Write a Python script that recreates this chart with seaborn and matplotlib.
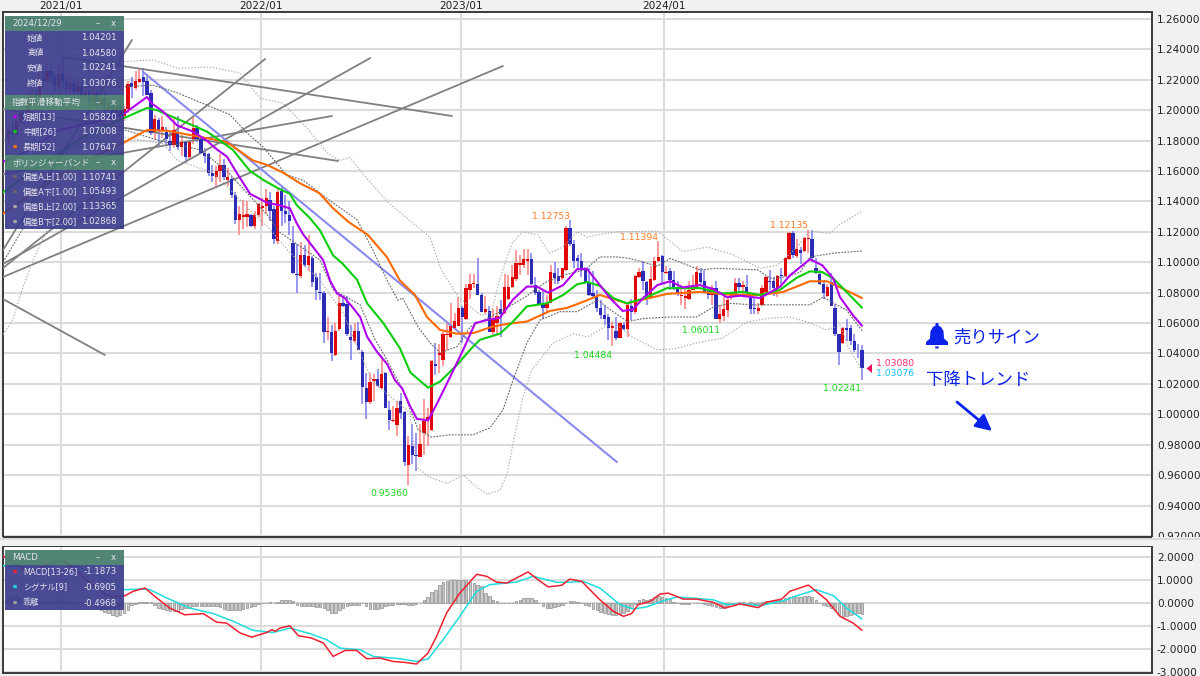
import numpy as np
import matplotlib
matplotlib.use("Agg")
import matplotlib.pyplot as plt
from matplotlib.patches import Rectangle, Polygon, FancyArrowPatch
import seaborn as sns

sns.set_theme(style="white")
FONT = ['DejaVu Sans', 'Noto Sans CJK JP']
plt.rcParams['font.family'] = FONT

# ---------------- weekly candles (oldest first) ----------------
opens = [1.182,1.187,1.184,1.193,1.198,1.194,1.206,1.210,1.207,1.221,1.219,1.226,1.222,1.216,1.224,1.219,1.214,1.218,1.212,1.216,1.209,1.212,1.206,1.211,1.203,1.208,1.200,1.205,1.198,1.203,1.196,
 1.201,1.218,1.2145,1.2185,1.222,1.219,1.2115,1.186,1.1935,1.187,1.186,1.18,1.177,1.186,1.176,1.179,1.169,1.181,1.188,1.181,
 1.172,1.171,1.159,1.156,1.16,1.164,1.154,1.155,1.144,1.128,1.13,1.13,1.131,1.124,1.131,1.136,1.137,1.141,1.135,1.114,
 1.147,1.134,1.131,1.1125,1.092,1.091,1.105,1.098,1.103,1.09,1.0805,1.08,1.054,1.054,1.039,1.056,1.0735,1.0725,1.051,1.048,
 1.055,1.041,1.017,1.008,1.022,1.023,1.0175,1.027,1.003,.9955,.993,1.009,1.0015,.9665,.979,.9735,.972,.988,.9955,.99,
 1.033,1.039,1.036,1.052,1.051,1.0565,1.058,1.07,1.063,1.082,1.0855,1.0855,1.0785,1.0675,1.068,1.054,1.06,1.069,1.0665,1.076,
 1.0835,1.089,1.098,1.0985,1.101,1.102,1.085,1.0805,1.0725,1.07,1.0735,1.093,1.091,1.0895,1.095,1.1225,1.112,1.103,1.101,1.095,
 1.087,1.0795,1.077,1.07,1.065,1.064,1.0565,1.055,1.0505,1.059,1.056,1.0715,1.0675,1.09,1.094,1.087,1.077,1.0885,1.101,1.104,
 1.093,1.094,1.0885,1.084,1.078,1.0765,1.076,1.082,1.083,1.093,1.088,1.081,1.0785,1.083,1.063,1.0645,1.0685,1.0775,1.079,1.0865,
 1.084,1.084,1.0765,1.07,1.068,1.072,1.0805,1.088,1.088,1.083,1.0915,1.091,1.102,1.1195,1.104,1.108,1.1075,1.1155,1.1155,1.0965,
 1.0925,1.086,1.078,1.087,1.07,1.0525,1.047,1.057,1.0565,1.048,1.0425,1.04201]
highs = [1.191,1.192,1.198,1.203,1.203,1.211,1.215,1.214,1.226,1.228,1.232,1.231,1.224,1.229,1.2349,1.221,1.223,1.221,1.220,1.220,1.216,1.216,1.215,1.214,1.212,1.212,1.209,1.209,1.207,1.207,1.203,
 1.219,1.222,1.2255,1.227,1.2275,1.224,1.2135,1.197,1.195,1.196,1.189,1.186,1.195,1.196,1.184,1.18,1.18,1.196,1.19,1.182,
 1.175,1.172,1.164,1.163,1.171,1.168,1.162,1.156,1.146,1.137,1.141,1.14,1.132,1.134,1.139,1.142,1.148,1.146,1.137,1.148,
 1.15,1.144,1.14,1.124,1.112,1.1135,1.1115,1.118,1.104,1.093,1.093,1.081,1.064,1.059,1.06,1.078,1.078,1.078,1.059,1.06,
 1.061,1.042,1.027,1.027,1.0265,1.03,1.0365,1.0275,1.009,1.0055,1.009,1.014,1.002,.986,.9935,.988,.9935,1.01,1.004,1.036,
 1.047,1.046,1.054,1.06,1.073,1.0665,1.077,1.071,1.086,1.0925,1.0925,1.103,1.0795,1.078,1.071,1.069,1.071,1.075,1.0925,1.0915,
 1.098,1.108,1.1045,1.109,1.109,1.106,1.0905,1.082,1.082,1.0785,1.098,1.1,1.096,1.0965,1.1236,1.12753,1.1145,1.105,1.106,1.097,
 1.0965,1.094,1.082,1.075,1.072,1.066,1.061,1.064,1.061,1.061,1.0735,1.076,1.0915,1.096,1.101,1.0875,1.0975,1.1035,1.11394,1.1045,
 1.0975,1.0965,1.094,1.088,1.084,1.084,1.088,1.0915,1.0975,1.0965,1.095,1.084,1.085,1.088,1.072,1.0795,1.077,1.0795,1.0895,1.0895,
 1.088,1.0915,1.077,1.077,1.073,1.085,1.091,1.095,1.09,1.0915,1.0965,1.103,1.12,1.1205,1.1155,1.11,1.1165,1.12135,1.12135,1.1025,
 1.095,1.0885,1.086,1.093,1.0725,1.053,1.0575,1.063,1.059,1.053,1.0465,1.0458]
lows = [1.178,1.181,1.180,1.189,1.190,1.191,1.202,1.204,1.204,1.215,1.216,1.218,1.213,1.213,1.215,1.211,1.211,1.209,1.209,1.206,1.206,1.203,1.203,1.200,1.200,1.197,1.197,1.195,1.195,1.192,1.193,
 1.198,1.208,1.2135,1.2178,1.2095,1.21,1.184,1.181,1.176,1.182,1.177,1.173,1.175,1.174,1.17,1.165,1.167,1.178,1.179,1.171,
 1.165,1.157,1.153,1.149,1.153,1.154,1.15,1.142,1.125,1.118,1.122,1.123,1.123,1.122,1.13,1.124,1.132,1.127,1.112,1.112,
 1.124,1.126,1.118,1.0925,1.08,1.0895,1.097,1.094,1.084,1.075,1.075,1.047,1.049,1.035,1.0385,1.055,1.0705,1.0515,1.036,1.047,
 1.042,1.007,.997,1.007,1.009,1.018,1.0168,1.004,.99,.995,.986,.997,.966,.9536,.967,.963,.972,.973,.979,.989,
 1.026,1.027,1.0315,1.042,1.05,1.0555,1.058,1.047,1.062,1.076,1.083,1.0785,1.067,1.066,1.054,1.052,1.053,1.051,1.066,1.0755,
 1.083,1.088,1.0915,1.0965,1.0915,1.085,1.0785,1.072,1.063,1.0665,1.073,1.086,1.086,1.0885,1.0945,1.111,1.096,1.096,1.09,1.086,
 1.0775,1.0765,1.0675,1.0625,1.059,1.049,1.04484,1.049,1.05,1.0555,1.051,1.062,1.066,1.0895,1.082,1.072,1.0765,1.088,1.1005,1.0865,
 1.092,1.082,1.0815,1.078,1.072,1.069,1.0755,1.0815,1.0825,1.086,1.0795,1.076,1.072,1.0625,1.06011,1.0615,1.064,1.075,1.0775,1.0795,
 1.0775,1.0785,1.066,1.066,1.066,1.071,1.08,1.082,1.0775,1.077,1.0855,1.0905,1.1015,1.1025,1.103,1.099,1.107,1.106,1.1005,1.0925,
 1.085,1.076,1.077,1.071,1.0515,1.0325,1.046,1.0485,1.0455,1.041,1.037,1.02241]
closes = [1.187,1.184,1.193,1.198,1.194,1.206,1.210,1.207,1.221,1.219,1.226,1.222,1.216,1.224,1.219,1.214,1.218,1.212,1.216,1.209,1.212,1.206,1.211,1.203,1.208,1.200,1.205,1.198,1.203,1.196,1.201,
 1.217,1.2155,1.2195,1.2205,1.2185,1.21,1.185,1.194,1.187,1.189,1.181,1.177,1.187,1.176,1.179,1.169,1.179,1.188,1.181,1.172,
 1.17,1.159,1.157,1.16,1.164,1.156,1.156,1.144,1.128,1.132,1.131,1.132,1.124,1.131,1.138,1.137,1.142,1.134,1.115,1.146,
 1.134,1.132,1.127,1.093,1.0915,1.105,1.098,1.104,1.087,1.0815,1.08,1.054,1.0545,1.04,1.055,1.0735,1.0715,1.0525,1.049,1.055,
 1.0425,1.018,1.008,1.021,1.0235,1.0185,1.0265,1.004,.9965,.996,1.004,1.001,.9685,.98,.9735,.9725,.9805,.9955,.998,1.035,
 1.0315,1.04,1.053,1.053,1.058,1.0615,1.07,1.064,1.083,1.0855,1.0856,1.0785,1.0675,1.0695,1.054,1.063,1.0645,1.066,1.0835,1.084,
 1.09,1.0995,1.0995,1.102,1.102,1.0855,1.0795,1.0725,1.07,1.073,1.0935,1.0895,1.088,1.0965,1.1225,1.112,1.101,1.101,1.095,1.087,
 1.0785,1.0775,1.07,1.065,1.063,1.0565,1.058,1.05,1.06,1.056,1.072,1.0675,1.091,1.0935,1.088,1.077,1.089,1.101,1.1035,1.0935,
 1.0935,1.0885,1.084,1.0795,1.0785,1.0775,1.082,1.0835,1.0935,1.087,1.0805,1.0785,1.083,1.063,1.066,1.069,1.075,1.0795,1.0865,1.084,
 1.085,1.08,1.0695,1.069,1.07,1.083,1.09,1.087,1.083,1.091,1.091,1.1025,1.119,1.1045,1.1085,1.106,1.116,1.116,1.1025,1.093,
 1.0855,1.0795,1.0835,1.0715,1.053,1.041,1.057,1.0555,1.048,1.042,1.042,1.03076]

# ---------------- moving averages (week, price) ----------------
ema13_w = [-.5,6.5,14,24.6,31,36.8,38,41,44.6,48.7,52.3,55,57.5,60,63.5,68,70.7,73.8,75.6,77.2,79.8,82.4,84.2,86,88,90,92,93.8,96.4,99,101,102.9,105,106.7,109.6,112,115.3,118.7,121.8,124.9,128.2,131.6,135.2,137.8,140.7,144.6,148.2,150.8,154.1,156.7,160,162.7,165.3,169,172.3,175.6,180,183.4,187,190.4,195.6,200.8,203.4,208.5,211.7,214.5,216.3,219.7,222]
ema13_p = [1.166,1.174,1.187,1.193,1.198,1.2087,1.2045,1.199,1.190,1.186,1.180,1.174,1.1695,1.159,1.145,1.139,1.1378,1.1355,1.1255,1.1185,1.11,1.1015,1.088,1.0795,1.0765,1.0705,1.064,1.051,1.041,1.033,1.0225,1.017,1.005,.997,.996,1.0075,1.0245,1.0425,1.06,1.062,1.0635,1.0755,1.084,1.084,1.08,1.085,1.0955,1.0955,1.085,1.0765,1.068,1.069,1.0765,1.085,1.0875,1.0835,1.085,1.0825,1.077,1.078,1.0765,1.084,1.0915,1.102,1.098,1.0895,1.077,1.065,1.0582]
ema26_w = [-.5,10,20,31,36.8,39.4,43.5,48.7,52.3,55.7,59,63.5,67,70.5,73.8,75.6,79,81.6,85,87.3,91.2,93.8,98,102.3,105,109.6,112.7,117.1,120.5,123,128.2,131.6,135.2,140.4,144.6,148.2,150.8,154.1,157.5,161.1,165.3,171.5,180,186,191,195.6,200.8,205.2,208.5,211.7,214.5,222]
ema26_p = [1.146,1.165,1.182,1.195,1.2015,1.2,1.1955,1.19,1.186,1.18,1.174,1.16,1.154,1.149,1.145,1.1375,1.129,1.121,1.1045,1.0995,1.0885,1.073,1.06,1.0435,1.0275,1.0175,1.0215,1.0325,1.0425,1.049,1.053,1.061,1.071,1.073,1.0785,1.0855,1.087,1.0845,1.0765,1.073,1.076,1.083,1.083,1.0795,1.0805,1.0785,1.082,1.09,1.094,1.0935,1.0895,1.07008]
ema52_w = [-.5,10,20,31,36.8,42,50.5,57.5,64.2,67.9,72,76.4,81.4,85,89,94,98.9,102.3,106.2,109.3,112.7,117.1,121.5,126,130.1,135.2,141.2,145.6,149.8,154.1,161.1,165.3,171.5,180,188.6,195.6,201.6,208.5,212.9,216.3,222]
ema52_p = [1.132,1.15,1.166,1.179,1.187,1.1865,1.1825,1.179,1.167,1.164,1.159,1.152,1.1455,1.1355,1.1265,1.118,1.1035,1.088,1.0785,1.064,1.0555,1.053,1.0535,1.0575,1.0595,1.061,1.068,1.07,1.074,1.0785,1.073,1.0755,1.0792,1.0805,1.0785,1.0785,1.0805,1.0875,1.0875,1.0835,1.07647]

# ---------------- Bollinger bands (week, price) ----------------
bbB_up_w = [-.5,14,31,38.3,45,53,60.8,66,72,78,83.4,86.8,89.3,94.1,99.4,110.1,113,117.5,123.4,126,127.9,130.1,131.4,134,138,141,144.6,148.2,150.8,153.4,158.5,169,175.6,181.9,188.6,195.6,200,205.2,208.5,213.6,216.3,222]
bbB_up_p = [1.20,1.238,1.232,1.233,1.2275,1.2285,1.2245,1.208,1.2045,1.189,1.172,1.167,1.169,1.154,1.139,1.1165,1.095,1.077,1.065,1.067,1.0865,1.1035,1.1125,1.12,1.118,1.106,1.11,1.12,1.1165,1.118,1.12,1.1205,1.107,1.11,1.105,1.096,1.098,1.11,1.1205,1.119,1.125,1.13365]
bbA_up_w = [-.5,14,31.6,38.3,44.6,58.3,62.7,66.8,72.9,77.2,85,91.2,95.3,99,101.8,103,107,110.1,112.7,117.1,120.5,127.9,134.7,139.8,144.6,150.2,154.1,158.5,161.8,169,172.3,180,184.4,195,198.2,202.6,206,208.5,214.5,222]
bbA_up_p = [1.18,1.215,1.2155,1.2165,1.2115,1.197,1.185,1.176,1.1575,1.154,1.139,1.128,1.108,1.088,1.075,1.0765,1.0575,1.047,1.0405,1.0445,1.0575,1.067,1.077,1.0865,1.0915,1.095,1.1035,1.1035,1.1025,1.0975,1.1025,1.095,1.096,1.095,1.0895,1.0905,1.0935,1.1035,1.106,1.10741]
bbA_dn_w = [-.5,6.5,14,24.6,31,40,50.5,57.5,68,71,81.6,85,92,95.9,98.9,103,107,110.4,115.3,121.2,125.6,129,131.6,135.2,138.6,143.8,148.2,153.4,154.1,157.5,161.3,165.3,172.3,179.2,183.4,187.8,193.7,201.6,208.5,211.9,218,222]
bbA_dn_p = [1.10,1.13,1.17,1.186,1.187,1.18,1.174,1.16,1.131,1.12,1.1015,1.082,1.072,1.049,1.036,1.016,.99,.985,.9865,.9865,.991,1.003,1.0225,1.047,1.062,1.0675,1.0675,1.075,1.074,1.0675,1.061,1.063,1.064,1.064,1.0705,1.073,1.072,1.072,1.072,1.077,1.0685,1.05493]
bbB_dn_w = [-.5,2,4.7,7.3,10.9,16,24.6,31,41,44.6,53.9,57.5,64.2,68,73.8,81.6,87.6,92,95.4,104.9,106.7,110.1,114.5,118.7,122.3,124.9,128.2,130.1,131.6,134.2,136.4,142,147.2,150.8,154.1,157.5,162.4,168.9,173.3,180,185.8,192.2,198.2,203.4,207.8,212.9,216.3,218.4,222]
bbB_dn_p = [1.0525,1.062,1.084,1.1015,1.121,1.145,1.17,1.182,1.178,1.167,1.159,1.15,1.132,1.1235,1.1065,1.088,1.0665,1.04,1.021,1.001,.965,.9585,.9545,.96,.952,.9475,.95,.961,.981,1.0115,1.029,1.047,1.053,1.051,1.0555,1.061,1.051,1.0425,1.043,1.0475,1.05,1.0607,1.0633,1.064,1.0607,1.0555,1.0587,1.0445,1.02868]

# ---------------- drawn trend lines (week, price) ----------------
grey_lines = [([-.5,32.9],[1.108,1.2462]), ([-.5,67.4],[1.0962,1.2337]), ([-.5,94.6],[1.0989,1.2343]),
              ([-.5,129],[1.0903,1.2291]), ([-.5,25.9],[1.0758,1.039]), ([15,115.8],[1.235,1.1962]),
              ([-.5,86.3],[1.2008,1.1666]), ([-.5,84.7],[1.158,1.1962])]
blue_line = ([35.8,158.5],[1.2251,.9686])

# ---------------- MACD ----------------
macd_w = [-.9,2.2,6.5,11.7,15.1,18.6,22,25.5,28,31.1,33.2,36.3,39.3,42.7,46.6,51.4,54.8,57.4,60.9,63.9,67.8,69.1,70,71.2,73.8,76,79.4,82.5,85,88.1,91.1,93.7,97.1,100.6,103.6,106.6,109.6,111.8,114.4,117.8,122.2,124.8,127.3,130,135.5,138.1,140.7,144.2,146.3,149.4,154.1,157.6,160.2,162.3,164,167.1,169.7,171.8,175.7,179.2,183.5,186.5,190.4,195.1,197.3,201.2,203.3,208.1,212.8,216.3,219.7,222]
macd_v = [2.1,1.74,1.3,1.74,1.88,1.38,.87,.43,.26,.32,.51,.65,.22,-.22,-.51,-.46,-.83,-.87,-1.3,-1.48,-1.28,-1.16,-1.23,-1.09,-.99,-1.42,-1.52,-1.74,-2.32,-2.06,-2.06,-2.42,-2.39,-2.54,-2.58,-2.65,-2.17,-1.45,-.43,.43,1.25,1.16,.91,.87,1.35,1.01,.7,.77,1.04,.94,.14,-.36,-.58,-.46,-.07,.07,.39,.43,.17,.17,.03,-.22,-.04,-.2,.04,.17,.51,.78,.14,-.58,-.87,-1.1873]
sig_w = [-.9,3.9,9.1,14.2,19.4,24.6,30.7,35.8,37.6,41.9,47.9,54,59.2,64.3,69.5,73.8,79,83.3,86.8,92,95.4,102.3,106.6,109.6,113.5,117.8,122.2,125.6,130,132.5,136.8,142.9,145.5,149.8,154.1,159.3,162.7,166.2,170.5,174,179.2,183.5,186.9,191.2,195.6,201.6,205.9,210.2,214.6,218,222]
sig_v = [1.62,1.6,1.45,1.81,1.52,1.16,.58,.61,.58,.22,-.22,-.46,-.8,-1.19,-1.28,-1.09,-1.33,-1.59,-1.96,-2.03,-2.32,-2.42,-2.54,-2.43,-1.59,-.58,.51,.8,.87,.91,1.16,.9,.9,.94,.65,-.07,-.26,-.17,.1,.26,.2,.14,-.07,-.04,-.12,.1,.36,.58,.32,-.22,-.6905]
hist_v = [.30,.28,.25,.2,.15,.1,.08,.05,.03,.05,.06,.1,.12,.12,.1,.08,.06,.04,.02,-.02,-.05,-.08,
 -.15,-.25,-.3,-.38,-.42,-.5,-.55,-.5,-.42,-.3,
 -.1,-.05,.03,.05,.06,.03,
 -.1,-.2,-.28,-.32,-.35,-.35,-.33,-.28,-.22,-.2,
 -.12,-.12,-.13,-.15,-.15,-.15,-.14,-.18,-.24,-.3,-.32,-.32,-.3,-.28,-.22,
 -.18,-.12,-.05,-.02,.02,.05,.02,.05,.12,.12,.14,.1,
 -.1,-.13,-.14,-.14,-.14,-.16,-.18,-.2,-.3,-.42,-.42,-.3,-.2,-.12,-.1,-.08,-.08,
 -.02,-.15,-.25,-.28,-.26,-.2,-.12,-.1,-.09,-.06,-.05,-.05,
 -.08,-.08,-.06,0,.15,.25,.5,.55,.78,.9,.95,1.0,1.02,1.02,1.0,.98,.92,.88,.8,.72,.45,.3,.12,.08,.02,0,-.02,.02,.1,.15,.2,.22,.22,.12,-.02,
 -.12,-.22,-.22,-.18,-.15,-.1,-.02,.08,.1,.06,0,-.1,-.15,-.25,-.32,-.38,-.45,-.48,-.5,-.5,-.48,-.45,-.35,-.2,-.05,
 .12,.18,.12,.16,.28,.3,.28,.22,.18,.05,-.02,-.05,-.06,-.06,-.02,0,-.02,-.05,-.08,-.12,-.18,-.22,-.2,-.12,-.03,0,.04,.05,0,.04,-.05,-.04,.05,.07,.08,.1,.12,.15,.22,.28,.3,.28,.28,.3,.3,.25,.12,.02,-.08,-.15,-.2,-.3,-.52,-.6,-.55,-.5,-.48,-.45,-.4968]

# ---------------- text ----------------
year_ticks = [14.5, 66.3, 118.1, 170.7]
year_labels = ['2021/01', '2022/01', '2023/01', '2024/01']
price_ticks = [0.92,0.94,0.96,0.98,1.00,1.02,1.04,1.06,1.08,1.10,1.12,1.14,1.16,1.18,1.20,1.22,1.24,1.26]
macd_ticks = [-3,-2,-1,0,1,2]
high_labels = [('1.12753',141.5,1.1298),('1.11394',164.2,1.1166),('1.12135',203.1,1.1239)]
low_labels = [('0.95360',99.5,.9476),('1.04484',152.3,1.039),('1.06011',180.3,1.0548),('1.02241',216.8,1.0167)]

W, H = 1200, 676
WEEK_STEP = 0.9956
def px(x, y):
    return (x / W, 1 - y / H)

BG = '#f1f1f1'
fig = plt.figure(figsize=(12, 6.76), dpi=100, facecolor=BG)

def make_axes(top, bottom):
    return fig.add_axes([3 / W, 1 - bottom / H, (1152 - 3) / W, (bottom - top) / H], facecolor='white')

ax = make_axes(12, 537)
ax2 = make_axes(546, 673)

n = len(opens)
pos = 222 - np.arange(n)[::-1] * WEEK_STEP
o, h, l, c = map(np.array, (opens, highs, lows, closes))
up = c >= o
ax.vlines(pos[up], l[up], h[up], color='#ff8080', lw=1.1, zorder=3)
ax.vlines(pos[~up], l[~up], h[~up], color='#7c7cf0', lw=1.1, zorder=3)
ax.bar(pos[up], np.maximum((c - o)[up], .0006), bottom=o[up], width=.86, color='#e00808', lw=0, zorder=4)
ax.bar(pos[~up], np.maximum((o - c)[~up], .0006), bottom=c[~up], width=.86, color='#2b2bb4', lw=0, zorder=4)

def line(a, x, y, color, lw, ls='-', z=5):
    m = min(len(x), len(y))
    sns.lineplot(x=x[:m], y=y[:m], ax=a, color=color, lw=lw, linestyle=ls, estimator=None, sort=False,
                 legend=False, zorder=z)

for gx, gy in grey_lines:
    line(ax, gx, gy, '#808080', 1.3, z=3.5)
line(ax, blue_line[0], blue_line[1], '#8a8aee', 1.5, z=3.6)

dash_b = (0, (1.2, 1.6))
dash_a = (0, (1.6, 1.2))
line(ax, bbB_up_w, bbB_up_p, '#a8a8a8', .8, dash_b)
line(ax, bbB_dn_w, bbB_dn_p, '#a8a8a8', .8, dash_b)
line(ax, bbA_up_w, bbA_up_p, '#666666', .8, dash_a)
line(ax, bbA_dn_w, bbA_dn_p, '#666666', .8, dash_a)

line(ax, ema52_w, ema52_p, '#ff6a00', 1.5, z=6)
line(ax, ema26_w, ema26_p, '#0ccc0c', 1.5, z=6)
line(ax, ema13_w, ema13_p, '#b000f0', 1.5, z=6)

XLIM = (-0.5, 297.1)
ax.set_xlim(*XLIM); ax2.set_xlim(*XLIM)
ax.set_ylim(0.9193, 1.2646)
ax2.set_ylim(-3.04, 2.478)

for a in (ax, ax2):
    a.grid(True, color='#dcdcdc', lw=1.5, zorder=0)
    a.set_axisbelow(True)
    a.yaxis.tick_right()
    for s in a.spines.values():
        s.set_visible(True); s.set_color('#3a3a3a'); s.set_linewidth(1.4)
    a.tick_params(length=0)

ax.set_yticks(price_ticks)
ax.set_yticklabels([f'{v:.5f}' for v in price_ticks], fontsize=7.6, color='#222222')
ax.set_xticks(year_ticks)
ax.xaxis.tick_top()
ax.set_xticklabels(year_labels, fontsize=7.6, color='#222222')
ax.tick_params(axis='x', pad=0.5)
ax.tick_params(axis='y', pad=3.5)

ax2.set_xticks(year_ticks)
ax2.set_xticklabels([])
ax2.set_yticks(macd_ticks)
ax2.set_yticklabels([f'{v:.4f}' for v in macd_ticks], fontsize=7.6, color='#222222')
ax2.tick_params(axis='y', pad=3.5)

hn = min(len(hist_v), n)
hpos = 222 - np.arange(hn)[::-1] * WEEK_STEP
ax2.bar(hpos, hist_v[-hn:], width=.68, color='#cacaca', edgecolor='#8c8c8c', lw=.5, zorder=3)
line(ax2, sig_w, sig_v, '#20dcdc', 1.1, z=5)
line(ax2, macd_w, macd_v, '#f02030', 1.1, z=6)

for t, w, p in high_labels:
    ax.text(w, p, t, color='#ff7a22', fontsize=6.7, ha='center', va='center', zorder=7)
for t, w, p in low_labels:
    ax.text(w, p, t, color='#18d818', fontsize=6.7, ha='center', va='center', zorder=7)

# strip between the two panes: clips the lowest price label as in the original
fig.add_artist(Rectangle(px(0, 546), 1, 9 / H, transform=fig.transFigure, fc=BG, ec='none', zorder=1))
fig.add_artist(Rectangle(px(0, 539.5), 1, 1.5 / H, transform=fig.transFigure, fc='#dadada', ec='none', zorder=2))
fig.add_artist(Rectangle(px(3, 537.5), 1149 / W, 1.4 / H, transform=fig.transFigure, fc='#3a3a3a', ec='none', zorder=2))
fig.add_artist(Rectangle(px(3, 547), 1149 / W, 1.4 / H, transform=fig.transFigure, fc='#3a3a3a', ec='none', zorder=2))

# right hand markers
fig.text(*px(876, 363), '1.03080', color='#ff2a6e', fontsize=6.7, va='center', zorder=8)
fig.text(*px(876, 373), '1.03076', color='#10c0ff', fontsize=6.7, va='center', zorder=8)
fig.add_artist(Polygon([px(872, 364), px(872, 373), px(866.5, 368.5)], closed=True,
                       transform=fig.transFigure, fc='#e8105e', ec='none', zorder=8))

# sell sign
BLUE = '#0a22ea'
JP = ['Noto Sans CJK JP', 'DejaVu Sans']
bell = [(926, 345), (948, 345), (948, 342), (944, 338.5), (943.5, 331), (941, 327), (938.5, 325.5), (938.5, 323), (935.5, 323),
        (935.5, 325.5), (933, 327), (930.5, 331), (930, 338.5), (926, 342)]
fig.add_artist(Polygon([px(*b) for b in bell], closed=True, transform=fig.transFigure, fc=BLUE, ec='none', zorder=8))
fig.add_artist(Polygon([px(935, 346.5), px(939, 346.5), px(938.5, 348.5), px(935.5, 348.5)], closed=True,
                       transform=fig.transFigure, fc=BLUE, ec='none', zorder=8))
fig.text(*px(953, 337.5), '売りサイン', color=BLUE, fontsize=12.5, family=JP, va='center', zorder=8)
fig.text(*px(926, 380), '下降トレンド', color=BLUE, fontsize=12.5, family=JP, va='center', zorder=8)
fig.add_artist(FancyArrowPatch(px(957, 402), px(992, 431), transform=fig.transFigure, arrowstyle='-|>',
                               mutation_scale=24, lw=2.0, color=BLUE, shrinkA=0, shrinkB=0, zorder=8))

# info panels
HEAD = '#4a7f70'
BODY = '#3c3c8c'
TXT = '#e4e4ee'
def rect(x0, y0, x1, y1, col, alpha):
    fig.add_artist(Rectangle(px(x0, y1), (x1 - x0) / W, (y1 - y0) / H, transform=fig.transFigure,
                             fc=col, ec='none', alpha=alpha, zorder=20))
def label(x, y, s, ha='left', col=TXT, fs=6.2):
    fig.text(*px(x, y), s, color=col, fontsize=fs, ha=ha, va='center', family=FONT, zorder=21)
def header(y0, title):
    rect(5, y0, 124, y0 + 15, HEAD, .95)
    label(12, y0 + 7.5, title)
    label(98, y0 + 7.5, '–', ha='center')
    label(113, y0 + 7.5, 'x', ha='center')
def row(y, name, value, bullet=None, x=23):
    if bullet:
        fig.text(*px(14.7, y), '■', color=bullet, fontsize=3.2, ha='center', va='center', family=FONT, zorder=21)
    label(x, y, name, fs=5.9)
    label(117, y, value, ha='right')

rect(5, 31, 124, 95, BODY, .92)
rect(5, 110, 124, 155, BODY, .92)
rect(5, 170, 124, 229, BODY, .92)
rect(5, 565, 124, 610, BODY, .92)
header(16, '2024/12/29')
for y, nm, v in zip([38, 53, 68, 83], ['始値', '高値', '安値', '終値'], ['1.04201', '1.04580', '1.02241', '1.03076']):
    row(y, nm, v, x=27)
header(95, '指数平滑移動平均')
for y, nm, v, b in zip([117, 132, 147], ['短期[13]', '中期[26]', '長期[52]'], ['1.05820', '1.07008', '1.07647'],
                       ['#b000f0', '#0ccc0c', '#ff6a00']):
    row(y, nm, v, b)
header(155, 'ボリンジャーバンド')
for y, nm, v, b in zip([177, 192, 207, 222], ['偏差A上[1.00]', '偏差A下[1.00]', '偏差B上[2.00]', '偏差B下[2.00]'],
                       ['1.10741', '1.05493', '1.13365', '1.02868'], ['#666666', '#666666', '#a8a8a8', '#a8a8a8']):
    row(y, nm, v, b)
header(550, 'MACD')
for y, nm, v, b in zip([572, 587, 603], ['MACD[13-26]', 'シグナル[9]', '乖離'], ['-1.1873', '-0.6905', '-0.4968'],
                       ['#f02030', '#20dcdc', '#a0a0a0']):
    row(y, nm, v, b)

fig.savefig('out.png', dpi=100, facecolor=fig.get_facecolor())
